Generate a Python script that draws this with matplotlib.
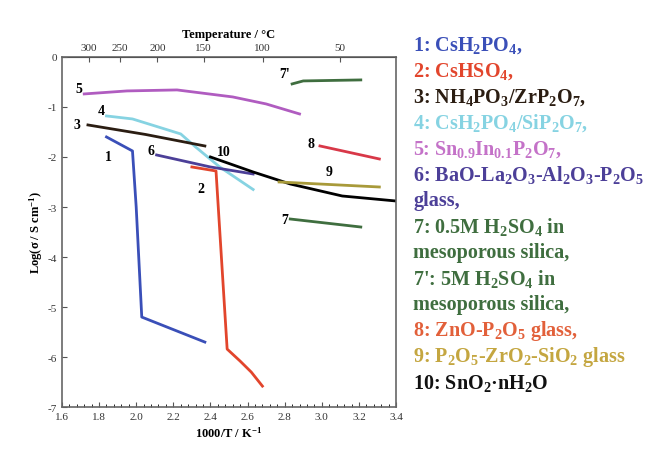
#!/usr/bin/env python3
"""
Arrhenius plot of proton conductors, log(sigma) vs 1000/T
"""
import numpy as np
import matplotlib.pyplot as plt

plt.rcParams['font.family'] = ['Liberation Serif', 'DejaVu Serif']
plt.rcParams['mathtext.fontset'] = 'custom'
plt.rcParams['mathtext.rm'] = 'Liberation Serif:bold'
plt.rcParams['mathtext.default'] = 'rm'

# curves: 1000/T (K^-1) and log(sigma / S cm^-1)
x1 = [1.84, 1.98, 2.00, 2.03, 2.37]
y1 = [-1.60, -1.88, -3.0, -5.20, -5.70]
x2 = [2.30, 2.43, 2.49, 2.56, 2.62, 2.68]
y2 = [-2.20, -2.28, -5.84, -6.08, -6.30, -6.58]
x3 = [1.74, 2.05, 2.37]
y3 = [-1.36, -1.55, -1.78]
x4 = [1.84, 1.98, 2.24, 2.32, 2.45, 2.63]
y4 = [-1.18, -1.24, -1.54, -1.80, -2.20, -2.65]
x5 = [1.72, 1.95, 2.22, 2.52, 2.70, 2.88]
y5 = [-0.74, -0.68, -0.66, -0.80, -0.94, -1.14]
x6 = [2.11, 2.40, 2.63]
y6 = [-1.96, -2.20, -2.34]
x7 = [2.83, 3.21]
y7 = [-3.24, -3.40]
x7b = [2.84, 2.90, 3.21]
y7b = [-0.54, -0.48, -0.46]
x8 = [2.99, 3.31]
y8 = [-1.78, -2.04]
x9 = [2.77, 3.31]
y9 = [-2.50, -2.60]
x10 = [2.40, 2.63, 2.83, 3.11, 3.40]
y10 = [-2.00, -2.30, -2.54, -2.78, -2.88]

temp_ticks = [300, 250, 200, 150, 100, 50]

legend_lines = [
    ("1: CsH$_2$PO$_4$,", "#3a4fb8"),
    ("2: CsHSO$_4$,", "#e2452c"),
    ("3: NH$_4$PO$_3$/ZrP$_2$O$_7$,", "#2b1d12"),
    ("4: CsH$_2$PO$_4$/SiP$_2$O$_7$,", "#86d3e2"),
    ("5: Sn$_{0.9}$In$_{0.1}$P$_2$O$_7$,", "#c472c8"),
    ("6: BaO-La$_2$O$_3$-Al$_2$O$_3$-P$_2$O$_5$", "#4c3f98"),
    ("glass,", "#4c3f98"),
    ("7: 0.5M H$_2$SO$_4$ in", "#3f6e3f"),
    ("mesoporous silica,", "#3f6e3f"),
    ("7': 5M H$_2$SO$_4$ in", "#3f6e3f"),
    ("mesoporous silica,", "#3f6e3f"),
    ("8: ZnO-P$_2$O$_5$ glass,", "#e2603a"),
    ("9: P$_2$O$_5$-ZrO$_2$-SiO$_2$ glass", "#c4a640"),
    ("10: SnO$_2$·nH$_2$O", "#111111"),
]


fig = plt.figure(figsize=(6.59, 4.56), dpi=100)
ax = fig.add_axes([0.094, 0.105, 0.507, 0.768])

ax.plot(x5, y5, color="#b05cc0", lw=2)
ax.plot(x4, y4, color="#86d3e2", lw=2)
ax.plot(x3, y3, color="#2b1d12", lw=2)
ax.plot(x1, y1, color="#3a4fb8", lw=2)
ax.plot(x6, y6, color="#4c3f98", lw=2)
ax.plot(x2, y2, color="#e2452c", lw=2)
ax.plot(x10, y10, color="black", lw=2)
ax.plot(x9, y9, color="#a89a3a", lw=2)
ax.plot(x8, y8, color="#d83848", lw=2)
ax.plot(x7, y7, color="#3f6e3f", lw=2)
ax.plot(x7b, y7b, color="#3f6e3f", lw=2)

# curve numbers
lab_kw = dict(fontsize=10, fontweight="bold", ha="center", va="center")
ax.text(1.69, -0.64, "5", **lab_kw)
ax.text(1.81, -1.08, "4", **lab_kw)
ax.text(1.68, -1.36, "3", **lab_kw)
ax.text(1.85, -2.00, "1", **lab_kw)
ax.text(2.08, -1.88, "6", **lab_kw)
ax.text(2.47, -1.90, "10", **lab_kw)
ax.text(2.35, -2.64, "2", **lab_kw)
ax.text(2.80, -0.34, "7'", **lab_kw)
ax.text(2.94, -1.74, "8", **lab_kw)
ax.text(3.04, -2.30, "9", **lab_kw)
ax.text(2.80, -3.24, "7", **lab_kw)

ax.set_xlim(1.6, 3.4)
ax.set_ylim(-7, 0)
ax.set_xticks(np.arange(1.6, 3.41, 0.2))
ax.set_xticklabels([f"{v:.1f}" for v in np.arange(1.6, 3.41, 0.2)])
ax.set_xticks(np.arange(1.6, 3.41, 0.04), minor=True)
ax.set_yticks(range(-7, 1))
ax.set_yticklabels([str(v) for v in range(-7, 1)])
ax.tick_params(axis="both", direction="in", labelsize=8, colors="#555555", labelcolor="#333333")
ax.tick_params(axis="x", which="minor", direction="in", length=2)
for s in ax.spines.values():
    s.set_color("#666666")
    s.set_linewidth(1.2)

ax.set_xlabel("1000/T / K$^{-1}$", fontsize=9, fontweight="bold", labelpad=3)
ax.set_ylabel("Log(σ / S cm$^{-1}$)", fontsize=9, fontweight="bold", labelpad=2)

top = ax.secondary_xaxis("top", functions=(lambda x: 1000.0 / np.maximum(x, 1e-6) - 273,
                                           lambda t: 1000.0 / (np.asarray(t) + 273)))
top.set_xticks(temp_ticks)
top.set_xticklabels([str(t) for t in temp_ticks])
top.tick_params(direction="in", labelsize=8, labelcolor="#333333", colors="#555555")
top.set_xlabel("Temperature / °C", fontsize=9, fontweight="bold", labelpad=4)

for i, (txt, col) in enumerate(legend_lines):
    fig.text(0.627, 0.901 - i * 0.057, txt, color=col, fontsize=14.5,
             fontweight="bold", ha="left", va="center")

plt.savefig("out.png", dpi=100)
